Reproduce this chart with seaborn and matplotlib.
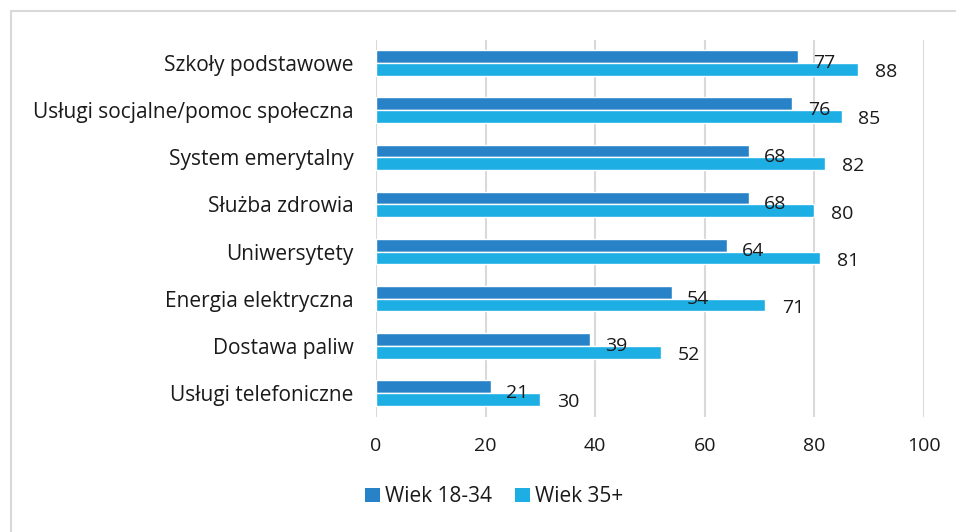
import matplotlib
matplotlib.use("Agg")
import matplotlib.pyplot as plt
from matplotlib.lines import Line2D
from matplotlib.patches import Patch
import pandas as pd
import seaborn as sns

# Data
categories = [
    "Szkoły podstawowe",
    "Usługi socjalne/pomoc społeczna",
    "System emerytalny",
    "Służba zdrowia",
    "Uniwersytety",
    "Energia elektryczna",
    "Dostawa paliw",
    "Usługi telefoniczne",
]
age_18_34 = [77, 76, 68, 68, 64, 54, 39, 21]
age_35_plus = [88, 85, 82, 80, 81, 71, 52, 30]
series_names = ["Wiek 18-34", "Wiek 35+"]
x_ticks = [0, 20, 40, 60, 80, 100]

colors = ["#2882C8", "#1DAEE4"]
grid_color = "#D9D9D9"
text_color = "#1A1A1A"

df = pd.DataFrame({
    "kategoria": categories * 2,
    "wartosc": age_18_34 + age_35_plus,
    "grupa": [series_names[0]] * len(categories) + [series_names[1]] * len(categories),
})

sns.set_style("white")
plt.rcParams["font.family"] = ["Open Sans", "DejaVu Sans"]
plt.rcParams["text.color"] = text_color

fig = plt.figure(figsize=(9.56, 5.32), dpi=100)
ax = fig.add_axes([376 / 956, 1 - 416.5 / 532, (924 - 376) / 956, (416.5 - 39.5) / 532])

sns.barplot(
    data=df, y="kategoria", x="wartosc", hue="grupa",
    order=categories, hue_order=series_names, palette=colors,
    orient="h", width=0.54, saturation=1, ax=ax, legend=False,
)

# value labels, offset like the original
offsets = [(11, -4.5), (12, -2)]
for cont, off in zip(ax.containers, offsets):
    for bar in cont:
        w = bar.get_width()
        yc = bar.get_y() + bar.get_height() / 2
        ax.annotate(f"{w:.0f}", xy=(w, yc), xytext=off, textcoords="offset points",
                    ha="left", va="center", fontsize=14, color=text_color)

ax.set_xlim(0, 100)
ax.set_ylim(len(categories) - 0.5, -0.5)
ax.set_xticks(x_ticks)
ax.set_xlabel("")
ax.set_ylabel("")
ax.xaxis.grid(True, color=grid_color, linewidth=1.5)
ax.set_axisbelow(True)
for s in ax.spines.values():
    s.set_visible(False)
ax.tick_params(axis="x", length=0, pad=15, labelsize=14, colors=text_color)
ax.tick_params(axis="y", length=0, pad=16, labelsize=15, colors=text_color)

handles = [Patch(facecolor=c, edgecolor="none") for c in colors]
fig.legend(handles, series_names, loc="center", bbox_to_anchor=(0.517, 0.066),
           ncol=2, frameon=False, fontsize=15, handlelength=0.7, handleheight=0.7,
           handletextpad=0.25, columnspacing=1.1)

# cropped chart frame (top and left edges only)
fig.add_artist(Line2D([10.5 / 956, 1], [1 - 10.5 / 532] * 2, color=grid_color, linewidth=1.5))
fig.add_artist(Line2D([10.5 / 956] * 2, [0, 1 - 10.5 / 532], color=grid_color, linewidth=1.5))

fig.savefig("out.png", dpi=100)
